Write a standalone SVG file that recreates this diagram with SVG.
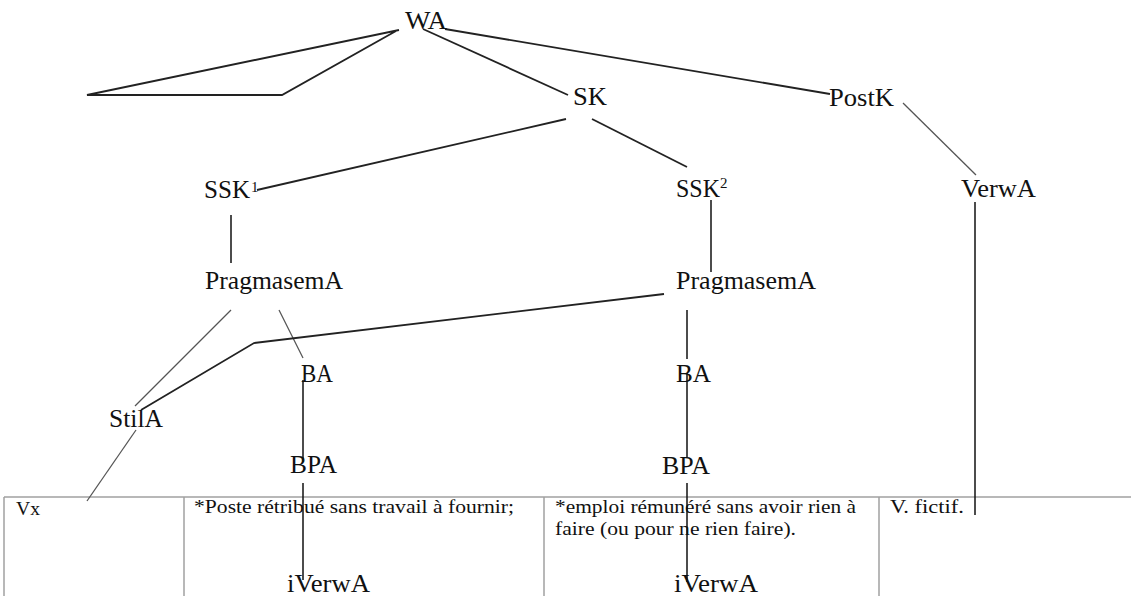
<svg xmlns="http://www.w3.org/2000/svg" width="1131" height="596" viewBox="0 0 1131 596">
<style>
.n{font-family:"Liberation Serif","Times New Roman",serif;font-size:25px;fill:#111}
.sup{font-family:"Liberation Serif","Times New Roman",serif;font-size:15px;fill:#111}
.t{font-family:"Liberation Serif","Times New Roman",serif;font-size:18px;fill:#111}
.c{fill:none;stroke:#222;stroke-width:1.8;stroke-linejoin:miter}
.g{fill:none;stroke:#555;stroke-width:1.3}
.v{fill:none;stroke:#111;stroke-width:1.5}
.tb{fill:none;stroke:#a0a0a0;stroke-width:1.5}
</style>
<rect width="1131" height="596" fill="#fff"/>
<g id="table">
<line class="tb" x1="4" y1="497" x2="1131" y2="497"/>
<line class="tb" x1="4" y1="497" x2="4" y2="596"/>
<line class="tb" x1="184" y1="497" x2="184" y2="596"/>
<line class="tb" x1="544" y1="497" x2="544" y2="596"/>
<line class="tb" x1="879" y1="497" x2="879" y2="596"/>
<text class="t" x="16" y="515" textLength="24" lengthAdjust="spacingAndGlyphs">Vx</text>
<text class="t" x="194" y="513" textLength="320" lengthAdjust="spacingAndGlyphs">*Poste rétribué sans travail à fournir;</text>
<text class="t" x="555" y="513" textLength="301" lengthAdjust="spacingAndGlyphs">*emploi rémunéré sans avoir rien à</text>
<text class="t" x="555" y="535" textLength="241" lengthAdjust="spacingAndGlyphs">faire (ou pour ne rien faire).</text>
<text class="t" x="890" y="513" textLength="74" lengthAdjust="spacingAndGlyphs">V. fictif.</text>
</g>
<g id="connectors">
<polyline class="c" points="399,30 87,95 282,95 396,31"/>
<line class="c" x1="423" y1="29" x2="568" y2="95"/>
<line class="c" x1="445" y1="29" x2="830" y2="94"/>
<line class="c" x1="566" y1="119" x2="257" y2="190"/>
<line class="c" x1="592" y1="119" x2="687" y2="167"/>
<line class="g" x1="903" y1="103" x2="976" y2="175"/>
<line class="v" x1="231" y1="215" x2="231" y2="263"/>
<line class="v" x1="711" y1="200" x2="711" y2="272"/>
<line class="v" x1="975" y1="202" x2="975" y2="515"/>
<line class="g" x1="231" y1="310" x2="135" y2="406"/>
<line class="g" x1="279" y1="310" x2="303" y2="358"/>
<polyline class="c" points="664,294 254,343 141,410"/>
<line class="v" x1="303" y1="380" x2="303" y2="462"/>
<line class="v" x1="303" y1="483" x2="303" y2="580"/>
<line class="v" x1="687" y1="310" x2="687" y2="359"/>
<line class="v" x1="687" y1="373" x2="687" y2="457"/>
<line class="v" x1="687" y1="483" x2="687" y2="582"/>
<line class="g" x1="136" y1="430" x2="87" y2="501"/>
</g>
<g id="WA"><text class="n" x="405" y="29" textLength="42" lengthAdjust="spacingAndGlyphs">WA</text></g>
<g id="SK"><text class="n" x="573" y="105" textLength="34" lengthAdjust="spacingAndGlyphs">SK</text></g>
<g id="PostK"><text class="n" x="829" y="106" textLength="65" lengthAdjust="spacingAndGlyphs">PostK</text></g>
<g id="SSK1"><text class="n" x="204" y="198" textLength="46" lengthAdjust="spacingAndGlyphs">SSK</text><text class="sup" x="251" y="192">1</text></g>
<g id="SSK2"><text class="n" x="676" y="197" textLength="44" lengthAdjust="spacingAndGlyphs">SSK</text><text class="sup" x="720" y="188">2</text></g>
<g id="VerwA"><text class="n" x="961" y="197" textLength="75" lengthAdjust="spacingAndGlyphs">VerwA</text></g>
<g id="PragmasemA1"><text class="n" x="205" y="289" textLength="138" lengthAdjust="spacingAndGlyphs">PragmasemA</text></g>
<g id="PragmasemA2"><text class="n" x="676" y="289" textLength="140" lengthAdjust="spacingAndGlyphs">PragmasemA</text></g>
<g id="StilA"><text class="n" x="109" y="427" textLength="54" lengthAdjust="spacingAndGlyphs">StilA</text></g>
<g id="BA1"><text class="n" x="301" y="382" textLength="32" lengthAdjust="spacingAndGlyphs">BA</text></g>
<g id="BA2"><text class="n" x="676" y="382" textLength="35" lengthAdjust="spacingAndGlyphs">BA</text></g>
<g id="BPA1"><text class="n" x="290" y="473" textLength="47" lengthAdjust="spacingAndGlyphs">BPA</text></g>
<g id="BPA2"><text class="n" x="662" y="474" textLength="48" lengthAdjust="spacingAndGlyphs">BPA</text></g>
<g id="iVerwA1"><text class="n" x="287" y="592" textLength="83" lengthAdjust="spacingAndGlyphs">iVerwA</text></g>
<g id="iVerwA2"><text class="n" x="674" y="592" textLength="84" lengthAdjust="spacingAndGlyphs">iVerwA</text></g>
</svg>
